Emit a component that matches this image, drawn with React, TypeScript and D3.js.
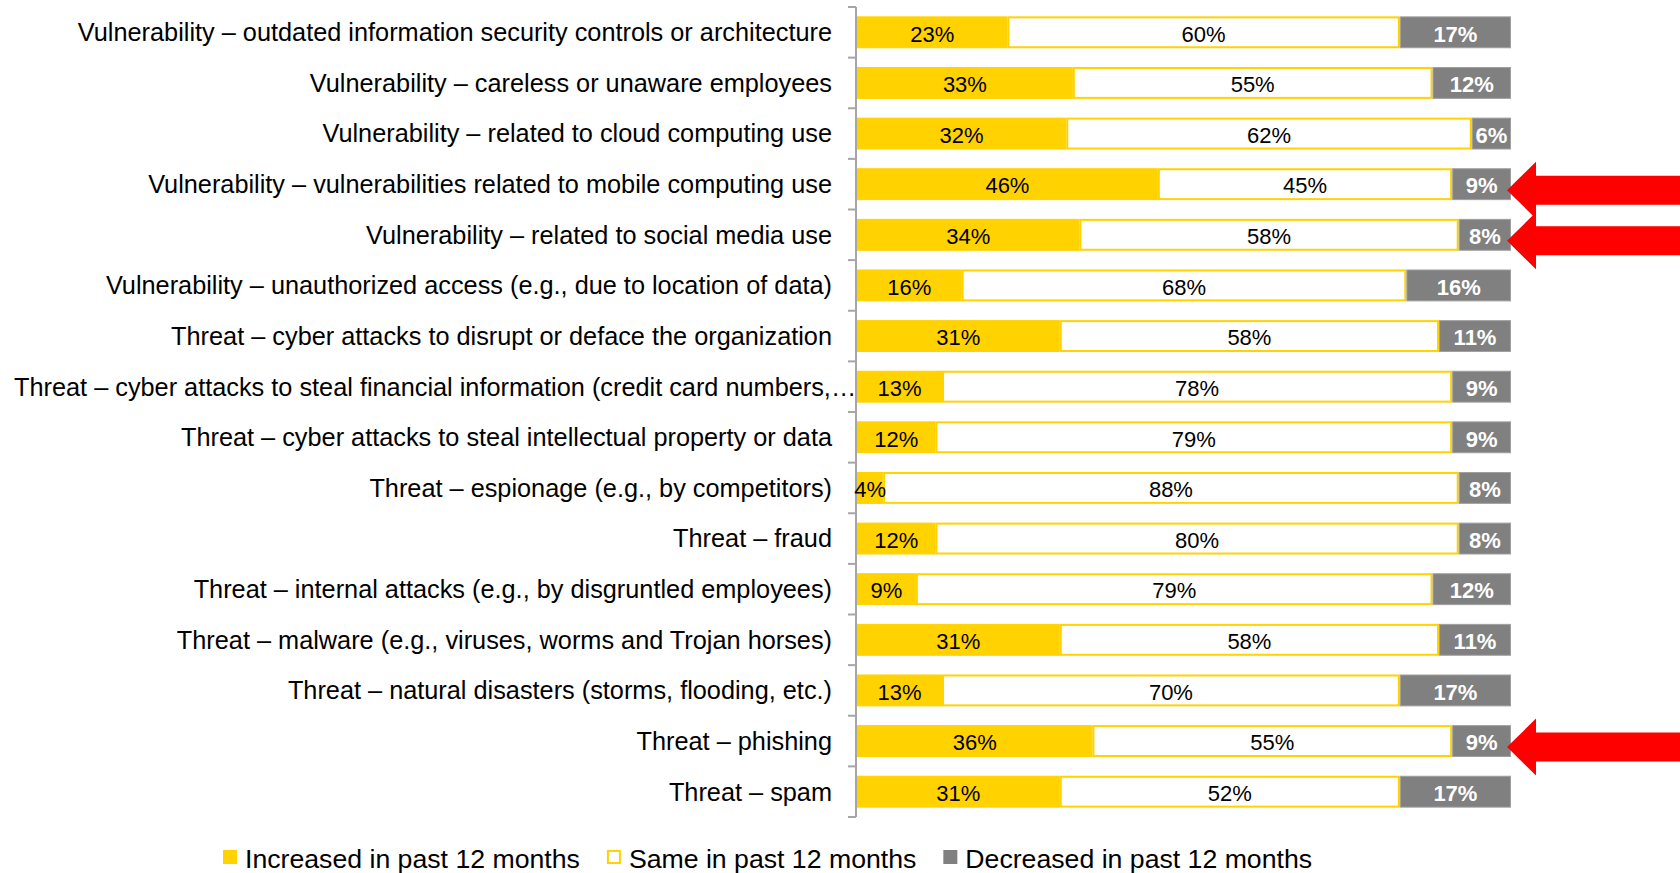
import React, { useEffect, useRef } from 'react';
import * as d3 from 'd3';

const categories = [
  'Vulnerability – outdated information security controls or architecture',
  'Vulnerability – careless or unaware employees',
  'Vulnerability – related to cloud computing use',
  'Vulnerability – vulnerabilities related to mobile computing use',
  'Vulnerability – related to social media use',
  'Vulnerability – unauthorized access (e.g., due to location of data)',
  'Threat – cyber attacks to disrupt or deface the organization',
  'Threat – cyber attacks to steal financial information (credit card numbers,…',
  'Threat – cyber attacks to steal intellectual property or data',
  'Threat – espionage (e.g., by competitors)',
  'Threat – fraud',
  'Threat – internal attacks (e.g., by disgruntled employees)',
  'Threat – malware (e.g., viruses, worms and Trojan horses)',
  'Threat – natural disasters (storms, flooding, etc.)',
  'Threat – phishing',
  'Threat – spam',
];

const increased = [23, 33, 32, 46, 34, 16, 31, 13, 12, 4, 12, 9, 31, 13, 36, 31];
const same = [60, 55, 62, 45, 58, 68, 58, 78, 79, 88, 80, 79, 58, 70, 55, 52];
const decreased = [17, 12, 6, 9, 8, 16, 11, 9, 9, 8, 8, 12, 11, 17, 9, 17];

const seriesKeys = ['increased', 'same', 'decreased'];
const seriesNames = ['Increased in past 12 months', 'Same in past 12 months', 'Decreased in past 12 months'];

const highlighted = [
  'Vulnerability – vulnerabilities related to mobile computing use',
  'Vulnerability – related to social media use',
  'Threat – phishing',
];

const FONT = '"Liberation Sans", Arial, Helvetica, sans-serif';
const YELLOW = '#FFD200';
const GREY = '#808080';

export default function App() {
  const ref = useRef<SVGSVGElement>(null);

  useEffect(() => {
    document.body.style.margin = '0';
    const svg = d3.select(ref.current);
    svg.selectAll('*').remove();

    const rows = categories.map((c, i) => ({
      category: c,
      increased: increased[i],
      same: same[i],
      decreased: decreased[i],
    }));

    const x = d3.scaleLinear().domain([0, 100]).range([857, 1511]);
    const y = d3
      .scaleBand<string>()
      .domain(categories)
      .range([7, 817])
      .paddingInner(0.37)
      .paddingOuter(0.185);

    const stack = d3.stack<any>().keys(seriesKeys);
    const stacked = stack(rows);

    const g = svg.append('g');

    // bars
    const fills = [YELLOW, '#FFFFFF', GREY];
    const strokes = [YELLOW, YELLOW, '#A0A0A0'];
    const strokeW = [1, 2, 1];
    stacked.forEach((layer, li) => {
      g.append('g')
        .selectAll('rect')
        .data(layer)
        .join('rect')
        .attr('x', (d) => x(d[0]) + strokeW[li] / 2)
        .attr('y', (d) => (y(d.data.category) as number) + strokeW[li] / 2)
        .attr('width', (d) => Math.max(0, x(d[1]) - x(d[0]) - strokeW[li]))
        .attr('height', y.bandwidth() - strokeW[li])
        .attr('fill', fills[li])
        .attr('stroke', strokes[li])
        .attr('stroke-width', strokeW[li]);
    });

    // axis line + ticks
    const axisX = 856;
    const tickVals = [0, ...categories.map((_, i) => i + 1)];
    const step = y.step();
    g.append('line')
      .attr('x1', axisX)
      .attr('x2', axisX)
      .attr('y1', y.range()[0])
      .attr('y2', y.range()[1])
      .attr('stroke', '#A6A6A6')
      .attr('stroke-width', 2);
    g.append('g')
      .selectAll('line')
      .data(tickVals)
      .join('line')
      .attr('x1', axisX - 8)
      .attr('x2', axisX)
      .attr('y1', (d) => y.range()[0] + d * step)
      .attr('y2', (d) => y.range()[0] + d * step)
      .attr('stroke', '#A6A6A6')
      .attr('stroke-width', 2);

    // value labels
    stacked.forEach((layer, li) => {
      g.append('g')
        .selectAll('text')
        .data(layer)
        .join('text')
        .attr('x', (d) => (x(d[0]) + x(d[1])) / 2)
        .attr('y', (d) => (y(d.data.category) as number) + y.bandwidth() / 2)
        .attr('dy', '0.42em')
        .attr('text-anchor', 'middle')
        .attr('font-family', FONT)
        .attr('font-size', 22)
        .attr('font-weight', li === 2 ? 'bold' : 'normal')
        .attr('fill', li === 2 ? '#FFFFFF' : '#000000')
        .text((d) => `${d[1] - d[0]}%`);
    });

    // category labels
    const labelEnd = 832;
    const labels = g
      .append('g')
      .selectAll('text')
      .data(categories)
      .join('text')
      .attr('x', labelEnd)
      .attr('y', (d) => (y(d) as number) + y.bandwidth() / 2)
      .attr('dy', '0.35em')
      .attr('text-anchor', 'end')
      .attr('font-family', FONT)
      .attr('font-size', 25.3)
      .attr('fill', '#000')
      .text((d) => d);
    labels.each(function () {
      const el = this as SVGTextElement;
      const w = el.getComputedTextLength();
      if (labelEnd - w < 14) {
        d3.select(el).attr('text-anchor', 'start').attr('x', 14);
      }
    });

    // red arrows
    const arrowTip = x(100) - 4;
    const arrowPath = (cy: number) => {
      const headLen = 29;
      const headH = 28.5;
      const shaftH = 14.5;
      const end = 1680;
      return `M${arrowTip},${cy} L${arrowTip + headLen},${cy - headH} L${arrowTip + headLen},${cy - shaftH} L${end},${cy - shaftH} L${end},${cy + shaftH} L${arrowTip + headLen},${cy + shaftH} L${arrowTip + headLen},${cy + headH} Z`;
    };
    g.append('g')
      .selectAll('path')
      .data(highlighted)
      .join('path')
      .attr('d', (d) => arrowPath((y(d) as number) + y.bandwidth() / 2 + 6))
      .attr('fill', '#FF0000');

    // legend
    const legend = g.append('g').attr('transform', 'translate(223,0)');
    let cursor = 0;
    seriesNames.forEach((name, i) => {
      const item = legend.append('g').attr('transform', `translate(${cursor},0)`);
      item
        .append('rect')
        .attr('x', i === 1 ? 1 : 0)
        .attr('y', i === 1 ? 851 : 850)
        .attr('width', i === 1 ? 12 : 14)
        .attr('height', i === 1 ? 12 : 14)
        .attr('fill', fills[i])
        .attr('stroke', i === 1 ? YELLOW : 'none')
        .attr('stroke-width', 2);
      const t = item
        .append('text')
        .attr('x', 22)
        .attr('y', 868)
        .attr('font-family', FONT)
        .attr('font-size', 26.67)
        .attr('fill', '#000')
        .text(name);
      const w = (t.node() as SVGTextElement).getComputedTextLength();
      cursor += 22 + w + 27;
    });
  }, []);

  return <svg ref={ref} width={1680} height={873} style={{ display: 'block', background: '#fff' }} />;
}
